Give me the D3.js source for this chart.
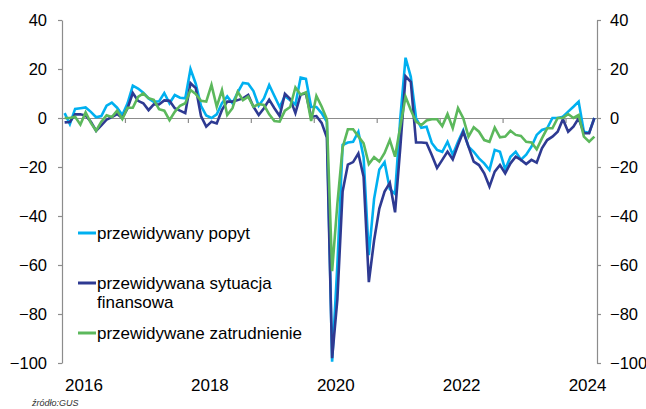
<!DOCTYPE html>
<html>
<head>
<meta charset="utf-8">
<script src="https://cdn.jsdelivr.net/npm/d3@7"></script>
<style>
  body { margin: 0; background: #fff; }
  text { font-family: Arial, "Liberation Sans", sans-serif; }
</style>
</head>
<body>
<div id="chart"></div>
<script>
// monthly data, Jan 2016 - Jun 2024
var popyt = [2, -2.5, 3.7, 4, 4.3, 2.5, 0.3, 0.8, 5, 6.3, 4.2, 1.2,
  6, 13.2, 12, 10.3, 8, 6.6, 6.8, 10.2, 6, 9.4, 8.3, 8,
  20, 14, 5, 1, 0, 1.5, 6, 8.8, 6, 10.5, 14.3, 14,
  11, 5, 8, 13.5, 9, 4.5, 9, 7.3, 5.5, 16.5, 16, 4.5,
  4.5, 2, -1.6, -99.5, -60, -11, -10, -9.7, -5.6, -16, -56, -33,
  -21, -18, -29, -31, 0, 24.6, 16.8, 0, -4, -3.6, -10.2, -13,
  -13.8, -9.7, -15, -9.7, -5, -11.7, -13.8, -16.5, -18.5, -21.2, -13, -13.8,
  -21, -15.8, -13.8, -17, -15, -11.7, -6.9, -4.9, -4.2, 0, 0, 0.5,
  2.6, 4.6, 6.7, -5.6, -6, 0];

var finanse = [-1.8, -1.6, 1.5, 1.5, 1, -1.5, -5.2, -3, -0.7, 0.4, 1.6, 0,
  4, 10.2, 7, 6, 3.2, 5.6, 5.5, 7.2, 7, 4, 3, 2,
  14.2, 12.2, 0.8, -3.5, -1.5, -2.2, 3.3, 6.7, 6.7, 7.3, 8, 9.4,
  4.6, 1.2, 4, 7.5, 4, 0.8, 9.9, 7.8, 2, 9.6, 10, 0.5,
  0.8, -2, -8, -98, -74, -30, -19, -18, -14.5, -24, -67, -50,
  -37, -30, -26.5, -38.5, -12, 17, 14.8, -10, -10, -10.2, -15.1, -20.4,
  -17.1, -13.7, -16.9, -11, -5.6, -11.7, -17.8, -19.2, -22.6, -28, -21.9, -19.2,
  -22.6, -18.5, -15.8, -17.1, -18.8, -17.1, -18.2, -12.4, -9, -7.6, -5.6, -0.5,
  -5.6, -3.5, -0.1, -6.2, -6.2, 0];

var zatrudnienie = [0, 0, 0.5, -2.7, 2.3, -2, -5.2, -1.5, 1.1, 0.4, 3, -0.4,
  4.2, 4.2, 8.6, 10, 8.1, 7.4, 3.6, 3, -0.9, 2.5, 5, 6,
  11.4, 9.8, 7, 6.7, 13.5, 4.6, 11.4, 1.2, 4, 10.7, 7.3, 8.7,
  4.6, 5.7, 5.3, 1.5, -1.2, -1.5, 3, 4.5, 12.5, 9.5, 10.5, -1.2,
  9, 4.7, -0.5, -62.5, -35, -12, -4.6, -4.6, -7.5, -10.3, -18.8, -16,
  -17.8, -14.3, -9, -15.8, -3.5, 8.7, 3.3, -1.5, -2.9, -1, -0.5, -0.5,
  -3.3, 1.6, -4.2, 4, -0.1, -7.6, -3.8, -5.6, -9, -9.7, -3.9, -7.9,
  -7.6, -5.2, -6.9, -7.3, -9.7, -10, -12.8, -8.3, -4.2, -4.2, 0, 0,
  1.6, 0, 1.2, -7.6, -9.7, -7.6];

var seriesNames = ["przewidywany popyt", "przewidywana sytuacja\nfinansowa", "przewidywane zatrudnienie"];
var seriesColors = ["#00b0f0", "#2e3a92", "#5cb85c"];
var yTicks = [40, 20, 0, -20, -40, -60, -80, -100];
var yearLabels = [2016, 2018, 2020, 2022, 2024];
var startYear = 2016;

var width = 646, height = 409;
var plot = { left: 62, right: 597, top: 20, bottom: 363 };

var svg = d3.select("#chart")
  .append("svg")
  .attr("width", width)
  .attr("height", height);

var n = popyt.length;
var x = d3.scaleLinear()
  .domain([0, n])
  .range([plot.left, plot.right]);

var y = d3.scaleLinear()
  .domain([-100, 40])
  .range([plot.bottom, plot.top]);

// left and right axes
var yLeft = svg.append("g")
  .attr("transform", "translate(" + plot.left + ",0)")
  .call(d3.axisLeft(y).tickValues(yTicks).tickSize(4).tickSizeOuter(0).tickPadding(11));

var yRight = svg.append("g")
  .attr("transform", "translate(" + plot.right + ",0)")
  .call(d3.axisRight(y).tickValues(yTicks).tickSize(4).tickSizeOuter(0).tickPadding(9));

// zero line with yearly tick marks
var xAxis = svg.append("g")
  .attr("transform", "translate(0," + y(0) + ")")
  .call(d3.axisBottom(x)
    .tickValues(d3.range(12, n, 12))
    .tickSize(5)
    .tickSizeOuter(0)
    .tickFormat(""));

svg.selectAll(".domain, .tick line")
  .attr("stroke", "#8c8c8c")
  .attr("stroke-width", 1.2);

svg.selectAll(".tick text")
  .attr("fill", "#000")
  .style("font-size", "16.5px");

svg.append("g")
  .selectAll("text")
  .data(yearLabels)
  .enter()
  .append("text")
  .attr("x", function (d) { return x((d - startYear) * 12 + 4.2); })
  .attr("y", 391)
  .attr("text-anchor", "middle")
  .style("font-size", "17px")
  .text(function (d) { return d; });

// series lines
var line = d3.line()
  .x(function (d, i) { return x(i + 0.5); })
  .y(function (d) { return y(d); });

var series = [popyt, finanse, zatrudnienie];

svg.append("g")
  .selectAll("path")
  .data(series)
  .enter()
  .append("path")
  .attr("d", line)
  .attr("fill", "none")
  .attr("stroke", function (d, i) { return seriesColors[i]; })
  .attr("stroke-width", 2.6)
  .attr("stroke-linejoin", "miter");

// legend
var legendY = [233, 283, 333];
var legend = svg.append("g")
  .selectAll("g")
  .data(seriesNames)
  .enter()
  .append("g")
  .attr("transform", function (d, i) { return "translate(78," + legendY[i] + ")"; });

legend.append("line")
  .attr("x1", 0)
  .attr("x2", 18)
  .attr("stroke", function (d, i) { return seriesColors[i]; })
  .attr("stroke-width", 3);

legend.append("text")
  .attr("x", 19)
  .attr("y", 6)
  .style("font-size", "17px")
  .selectAll("tspan")
  .data(function (d) { return d.split("\n"); })
  .enter()
  .append("tspan")
  .attr("x", 19)
  .attr("dy", function (d, i) { return i ? 19 : 0; })
  .text(function (d) { return d; });

svg.append("text")
  .attr("x", 32)
  .attr("y", 406)
  .style("font-size", "9px")
  .style("font-style", "italic")
  .attr("fill", "#333")
  .text("źródło:GUS");
</script>
</body>
</html>
